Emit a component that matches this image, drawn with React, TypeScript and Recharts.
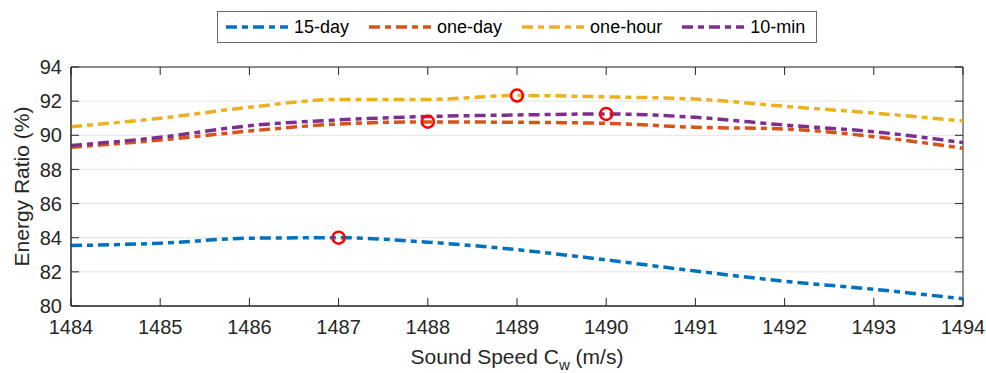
import React from 'react';
import { ComposedChart, Line, Scatter, XAxis, YAxis, CartesianGrid, Legend, ReferenceArea } from 'recharts';

const speeds = [1484, 1485, 1486, 1487, 1488, 1489, 1490, 1491, 1492, 1493, 1494];
const fifteenDay = [83.54, 83.68, 83.97, 84.0, 83.74, 83.3, 82.7, 82.05, 81.45, 80.98, 80.42];
const oneDay = [89.3, 89.72, 90.25, 90.66, 90.78, 90.76, 90.7, 90.47, 90.37, 89.92, 89.24];
const oneHour = [90.5, 91.0, 91.64, 92.1, 92.1, 92.33, 92.25, 92.12, 91.7, 91.3, 90.84];
const tenMin = [89.4, 89.88, 90.56, 90.9, 91.1, 91.19, 91.25, 91.05, 90.6, 90.21, 89.57];
const markerSpeeds = [1487, 1488, 1489, 1490];
const markerValues = [84.0, 90.8, 92.33, 91.25];
const xTicks = [1484, 1485, 1486, 1487, 1488, 1489, 1490, 1491, 1492, 1493, 1494];
const yTicks = [80, 82, 84, 86, 88, 90, 92, 94];

const seriesNames = ['15-day', 'one-day', 'one-hour', '10-min'];
const seriesKeys = ['d15', 'd1', 'h1', 'm10'];
const seriesColors = ['#0072BD', '#D95319', '#EDB120', '#7E2F8E'];

const data = speeds.map((s, i) => ({
  speed: s,
  d15: fifteenDay[i],
  d1: oneDay[i],
  h1: oneHour[i],
  m10: tenMin[i],
}));
const markers = markerSpeeds.map((s, i) => ({ speed: s, best: markerValues[i] }));

const FONT = '"Liberation Sans", Arial, Helvetica, sans-serif';
const AX = '#262626';
const DASH = '11 5 6 5';

const W = 986;
const H = 373;
const M = { top: 67, right: 23, bottom: 0, left: 0 };
const X_AXIS_H = 67;
const Y_AXIS_W = 71;
const PLOT_W = W - M.left - M.right - Y_AXIS_W;
const PLOT_H = H - M.top - M.bottom - X_AXIS_H;
const TICK_LEN = 8;
const X_TICK_MARGIN = 14;
const Y_TICK_MARGIN = 9;

const XTick = (p: any) => {
  const axisY = p.y - X_TICK_MARGIN;
  const topY = axisY - PLOT_H;
  return (
    <g>
      <line x1={p.x} y1={axisY} x2={p.x} y2={axisY - TICK_LEN} stroke={AX} strokeWidth={1} />
      <line x1={p.x} y1={topY} x2={p.x} y2={topY + TICK_LEN} stroke={AX} strokeWidth={1} />
      <text x={p.x} y={p.y} dy="0.71em" textAnchor="middle" fontFamily={FONT} fontSize={20} fill={AX}>
        {p.payload.value}
      </text>
    </g>
  );
};

const YTick = (p: any) => {
  const axisX = p.x + Y_TICK_MARGIN;
  const rightX = axisX + PLOT_W;
  return (
    <g>
      <line x1={axisX} y1={p.y} x2={axisX + TICK_LEN} y2={p.y} stroke={AX} strokeWidth={1} />
      <line x1={rightX} y1={p.y} x2={rightX - TICK_LEN} y2={p.y} stroke={AX} strokeWidth={1} />
      <text x={p.x} y={p.y} dy="0.355em" textAnchor="end" fontFamily={FONT} fontSize={20} fill={AX}>
        {p.payload.value}
      </text>
    </g>
  );
};

const LegendBox = () => (
  <div
    style={{
      boxSizing: 'border-box',
      width: 600,
      height: 32,
      border: '1px solid #6a6a6a',
      background: '#fff',
      display: 'flex',
      alignItems: 'center',
      paddingLeft: 8,
      fontFamily: FONT,
      fontSize: 18,
      color: '#000',
      whiteSpace: 'nowrap',
    }}
  >
    {seriesNames.map((n, i) => (
      <div key={n} style={{ display: 'flex', alignItems: 'center', marginRight: 20, flexShrink: 0 }}>
        <svg width={62} height={10} style={{ marginRight: 6, flexShrink: 0 }}>
          <line x1={0} y1={5} x2={62} y2={5} stroke={seriesColors[i]} strokeWidth={3.5} strokeDasharray={DASH} />
        </svg>
        <span>{n}</span>
      </div>
    ))}
  </div>
);

const XLabel = (props: any) => {
  const vb = props.viewBox || {};
  const cx = vb.x + vb.width / 2;
  return (
    <text x={cx} y={vb.y + 58} textAnchor="middle" fontFamily={FONT} fontSize={21} fill={AX}>
      <tspan>Sound Speed C</tspan>
      <tspan fontSize={15} dy={6}>w</tspan>
      <tspan dy={-6}> (m/s)</tspan>
    </text>
  );
};

const YLabel = (props: any) => {
  const vb = props.viewBox || {};
  const cy = vb.y + vb.height / 2;
  const cx = 29;
  return (
    <text
      x={cx}
      y={cy}
      transform={`rotate(-90 ${cx} ${cy})`}
      textAnchor="middle"
      fontFamily={FONT}
      fontSize={21}
      fill={AX}
    >
      Energy Ratio (%)
    </text>
  );
};

export default function App() {
  return (
    <div style={{ position: 'absolute', left: 0, top: 0, background: '#fff' }}>
      <ComposedChart width={W} height={H} data={data} margin={M}>
        <CartesianGrid horizontal vertical={false} stroke="#e3e3e3" />
        <XAxis
          dataKey="speed"
          type="number"
          domain={[1484, 1494]}
          ticks={xTicks}
          allowDataOverflow
          height={X_AXIS_H}
          tickLine={false}
          tickSize={0}
          tickMargin={X_TICK_MARGIN}
          axisLine={{ stroke: AX }}
          tick={<XTick />}
          label={<XLabel />}
        />
        <YAxis
          type="number"
          domain={[80, 94]}
          ticks={yTicks}
          allowDataOverflow
          width={Y_AXIS_W}
          tickLine={false}
          tickSize={0}
          tickMargin={Y_TICK_MARGIN}
          axisLine={{ stroke: AX }}
          tick={<YTick />}
          label={<YLabel />}
        />
        <ReferenceArea x1={1484} x2={1494} y1={80} y2={94} fill="none" fillOpacity={0} stroke={AX} strokeWidth={1} />
        <Legend verticalAlign="middle" wrapperStyle={{ left: 217, top: 11, width: 600 }} content={<LegendBox />} />
        {seriesKeys.map((k, i) => (
          <Line
            key={k}
            type="monotone"
            dataKey={k}
            name={seriesNames[i]}
            stroke={seriesColors[i]}
            strokeWidth={3.5}
            strokeDasharray={DASH}
            dot={false}
            activeDot={false}
            isAnimationActive={false}
          />
        ))}
        <Scatter
          data={markers}
          dataKey="best"
          isAnimationActive={false}
          legendType="none"
          shape={(p: any) => <circle cx={p.cx} cy={p.cy} r={6} fill="none" stroke="#FF0000" strokeWidth={2.5} />}
        />
      </ComposedChart>
    </div>
  );
}
